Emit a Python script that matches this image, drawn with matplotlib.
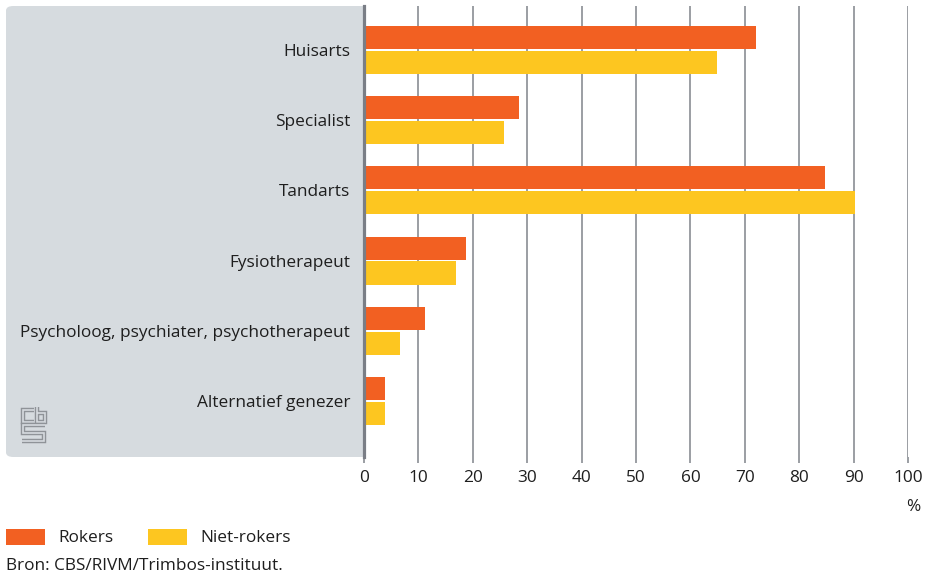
import numpy as np
import matplotlib
matplotlib.use("Agg")
import matplotlib.pyplot as plt
from matplotlib.patches import FancyBboxPatch, Rectangle

plt.rcParams['font.family'] = ['Open Sans', 'DejaVu Sans']

categories = ["Huisarts", "Specialist", "Tandarts", "Fysiotherapeut",
              "Psycholoog, psychiater, psychotherapeut", "Alternatief genezer"]
rokers = [72.1, 28.5, 84.7, 18.8, 11.2, 3.9]
niet_rokers = [64.9, 25.7, 90.3, 16.9, 6.6, 3.9]
series_names = ["Rokers", "Niet-rokers"]
xticks = [0, 10, 20, 30, 40, 50, 60, 70, 80, 90, 100]

ORANGE = "#f26022"
YELLOW = "#fdc620"
PANEL = "#d6dbdf"
GRID = "#8a8e94"
TXT = "#1e1e1e"
FS = 12.4

W, H = 928, 576
fig = plt.figure(figsize=(W / 100, H / 100), dpi=100)

def px(x, y):
    # pixel (from top-left) -> figure fraction
    return x / W, 1 - y / H

# grey label panel behind the category names
panel = FancyBboxPatch((6 / W, 1 - 457 / H), (372 - 6) / W, (457 - 6) / H,
                       boxstyle="round,pad=0,rounding_size=0.008",
                       transform=fig.transFigure, facecolor=PANEL,
                       edgecolor="none", zorder=-1)
fig.patches.append(panel)

ax_l, ax_r, ax_t, ax_b = 364, 908, 6, 457
ax = fig.add_axes([ax_l / W, 1 - ax_b / H, (ax_r - ax_l) / W, (ax_b - ax_t) / H])

y = np.arange(len(categories))
bh = 0.328
off = 0.178
ax.barh(y - off, rokers, height=bh, color=ORANGE, zorder=3)
ax.barh(y + off, niet_rokers, height=bh, color=YELLOW, zorder=3)

ax.set_xlim(0, 100)
ax.set_ylim(5.80, -0.627)
ax.set_xticks(xticks)
ax.set_xticklabels([str(t) for t in xticks])
ax.set_yticks(y)
ax.set_yticklabels(categories)

ax.grid(axis="x", color=GRID, linewidth=1.2, zorder=1)
ax.tick_params(axis="x", direction="out", length=4.5, width=1.2, color=GRID,
               pad=5, labelsize=FS, labelcolor=TXT)
ax.tick_params(axis="y", length=0, pad=10, labelsize=FS, labelcolor=TXT)

for s in ["top", "right", "bottom"]:
    ax.spines[s].set_visible(False)
ax.spines["left"].set_color("#7a7e86")
ax.spines["left"].set_linewidth(2.3)
ax.spines["left"].set_zorder(4)

# unit label
fig.text(*px(913, 507), "%", ha="center", va="center", fontsize=FS, color=TXT)

# legend
colors = [ORANGE, YELLOW]
lx = [6, 148]
for name, c, x0 in zip(series_names, colors, lx):
    fig.patches.append(Rectangle(px(x0, 545), 39 / W, 16 / H,
                                 transform=fig.transFigure, facecolor=c,
                                 edgecolor="none"))
    fig.text(*px(x0 + 52, 538), name, ha="left", va="center", fontsize=FS, color=TXT)

fig.text(*px(6, 566), "Bron: CBS/RIVM/Trimbos-instituut.", ha="left", va="center",
         fontsize=FS, color=TXT)

# cbs logo in the panel corner
logo = [
    [(34, 410), (23, 410), (23, 422), (34, 422)],
    [(37, 407), (37, 422), (45, 422), (45, 413), (37, 413)],
    [(45, 425), (23, 425), (23, 433), (44, 433), (44, 441), (22, 441)],
]
for path in logo:
    xs = [p[0] / W for p in path]
    ys = [1 - p[1] / H for p in path]
    fig.add_artist(plt.Line2D(xs, ys, color="#8f9398", linewidth=3.2,
                              solid_capstyle="butt", solid_joinstyle="miter"))
    fig.add_artist(plt.Line2D(xs, ys, color=PANEL, linewidth=1.2,
                              solid_capstyle="butt", solid_joinstyle="miter"))

fig.savefig("out.png", dpi=100)
